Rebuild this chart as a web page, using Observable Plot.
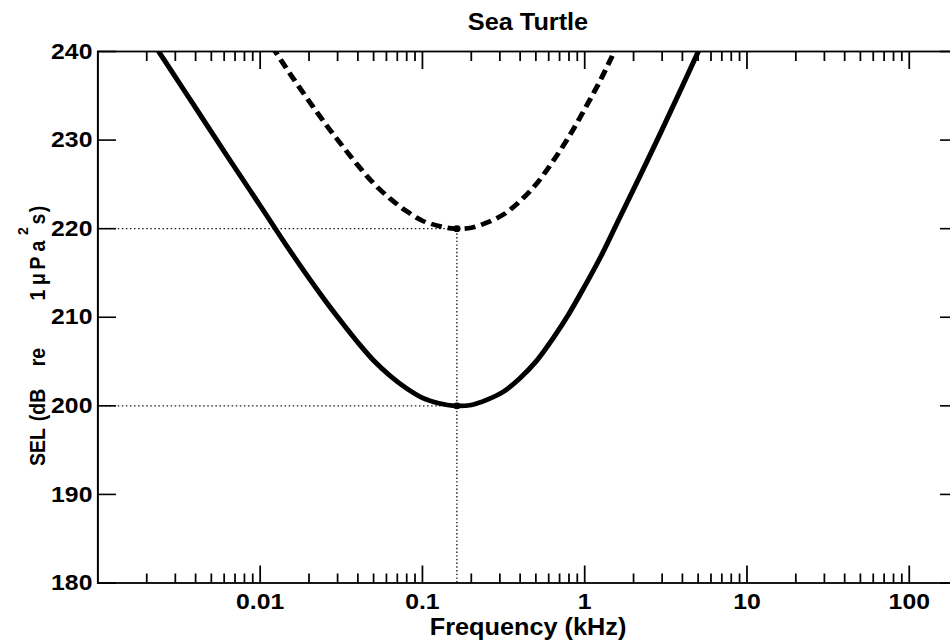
<!DOCTYPE html>
<html><head><meta charset="utf-8">
<script src="https://cdn.jsdelivr.net/npm/d3@7"></script>
<script src="https://cdn.jsdelivr.net/npm/@observablehq/plot@0.6"></script>
<style>
html,body{margin:0;padding:0;background:#fff;overflow:hidden;width:950px;height:643px;}
#wrap{transform:scaleX(1.1);transform-origin:0 0;width:872px;height:643px;}
</style></head><body><div id="wrap"></div>
<script>
const title = "Sea Turtle";
const xLabel = "Frequency (kHz)";
const yLabelParts = ["SEL", "(dB", "re", "1", "\u03bc", "P", "a", "2", "s", ")"];
const xDomain = [0.001, 200];
const yDomain = [180, 240];
const yTickValues = [180, 190, 200, 210, 220, 230, 240];
const xTickValues = [0.01, 0.1, 1, 10, 100];
const xTickLabels = ["0.01", "0.1", "1", "10", "100"];
const xMinorTicks = [0.002, 0.003, 0.004, 0.005, 0.006, 0.007, 0.008, 0.009,
  0.02, 0.03, 0.04, 0.05, 0.06, 0.07, 0.08, 0.09,
  0.2, 0.3, 0.4, 0.5, 0.6, 0.7, 0.8, 0.9,
  2, 3, 4, 5, 6, 7, 8, 9,
  20, 30, 40, 50, 60, 70, 80, 90];

// TTS (solid) curve
const solidFreq = [0.001, 0.00158, 0.00251, 0.00398, 0.00631, 0.01, 0.0158, 0.0251, 0.0316, 0.0398, 0.0501, 0.0631, 0.0794, 0.1, 0.126, 0.158, 0.2, 0.251, 0.316, 0.398, 0.501, 0.631, 0.794, 1, 1.26, 1.58, 2.51, 3.98, 5.01, 6.31];
const solidSEL = [250.5, 244.9, 239.3, 233.7, 228.1, 222.6, 217.1, 211.9, 209.5, 207.2, 205.1, 203.4, 202.0, 200.9, 200.3, 200.0, 200.1, 200.7, 201.6, 203.1, 205.0, 207.5, 210.3, 213.5, 216.9, 220.6, 228.2, 236.0, 240.0, 244.0];
// PTS (dashed) curve
const dashFreq = [0.00631, 0.01, 0.0158, 0.0251, 0.0316, 0.0398, 0.0501, 0.0631, 0.0794, 0.1, 0.126, 0.158, 0.2, 0.251, 0.316, 0.398, 0.501, 0.631, 0.794, 1, 1.26, 1.58, 2.51];
const dashSEL = [248.1, 242.6, 237.1, 231.9, 229.5, 227.2, 225.1, 223.4, 222.0, 220.9, 220.3, 220.0, 220.1, 220.7, 221.6, 223.1, 225.0, 227.5, 230.3, 233.5, 236.9, 240.6, 248.2];
// minimum points and reference levels
const minFreq = 0.163;
const refLevels = [200, 220];

const solid = solidFreq.map((f, i) => ({f, sel: solidSEL[i]}));
const dashed = dashFreq.map((f, i) => ({f, sel: dashSEL[i]}));
const minPoints = refLevels.map(sel => ({f: minFreq, sel}));

const dot = {stroke: "#222", strokeWidth: 1.3, strokeDasharray: "1.4,2.3"};

const plot = Plot.plot({
  width: 872, height: 643,
  marginLeft: 88.5, marginRight: 1.5, marginTop: 51, marginBottom: 60.5,
  style: {fontFamily: "'Liberation Sans', Arial, sans-serif", fontWeight: "bold", fontSize: "22px", background: "white", color: "black"},
  x: {type: "log", domain: xDomain},
  y: {domain: yDomain},
  marks: [
    Plot.ruleY(refLevels, {x1: xDomain[0], x2: minFreq, ...dot}),
    Plot.ruleX([minFreq], {y1: yDomain[0], y2: refLevels[1], ...dot}),
    Plot.line(solid, {x: "f", y: "sel", curve: "catmull-rom", strokeWidth: 4.7, stroke: "black", clip: true}),
    Plot.line(dashed, {x: "f", y: "sel", curve: "catmull-rom", strokeWidth: 4.6, stroke: "black", strokeLinecap: "butt", strokeDasharray: "10,5.5", clip: true}),
    Plot.dot(minPoints, {x: "f", y: "sel", r: 3.4, fill: "black", stroke: null}),
    Plot.axisY(yTickValues, {anchor: "left", tickSize: -17, tickPadding: 22, strokeWidth: 1.6, label: null, fontSize: 22.5}),
    Plot.axisY(yTickValues, {anchor: "right", tickSize: -17, strokeWidth: 1.6, fill: "none", label: null}),
    Plot.axisX(xTickValues, {anchor: "bottom", tickSize: -17, tickPadding: 27.5, strokeWidth: 1.6, label: null, fontSize: 22.5,
      tickFormat: d => xTickLabels[xTickValues.indexOf(d)]}),
    Plot.axisX(xMinorTicks, {anchor: "bottom", tickSize: -9, strokeWidth: 1.6, fill: "none", label: null}),
    Plot.axisX(xTickValues, {anchor: "top", tickSize: -17, strokeWidth: 1.6, fill: "none", label: null}),
    Plot.axisX(xMinorTicks, {anchor: "top", tickSize: -9, strokeWidth: 1.6, fill: "none", label: null}),
    Plot.frame({strokeWidth: 1.8, stroke: "black"}),
    Plot.text([title], {frameAnchor: "top", lineAnchor: "bottom", dy: -21.5, text: d => d, fontSize: 23, fontWeight: "bold"}),
    Plot.text([xLabel], {frameAnchor: "bottom", lineAnchor: "bottom", dy: 52, text: d => d, fontSize: 23, fontWeight: "bold"})
  ]
});

// y-axis label with superscript (rotated)
const svg = d3.select(plot);
const yl = svg.append("text")
  .attr("transform", "translate(40.9,447) rotate(-90)")
  .attr("font-size", 19.5).attr("font-weight", "bold").attr("fill", "black")
  .attr("font-family", "'Liberation Sans', Arial, sans-serif");
const partX = [0, 42, 90, 152, 168, 184, 201, 216, 228, 238];
yLabelParts.forEach((t, i) => {
  const ts = yl.append("tspan").attr("x", partX[i]).attr("y", 0).text(t);
  if (i === 7) ts.attr("y", -15).attr("font-size", 14);
});
document.getElementById("wrap").append(plot);
</script></body></html>
